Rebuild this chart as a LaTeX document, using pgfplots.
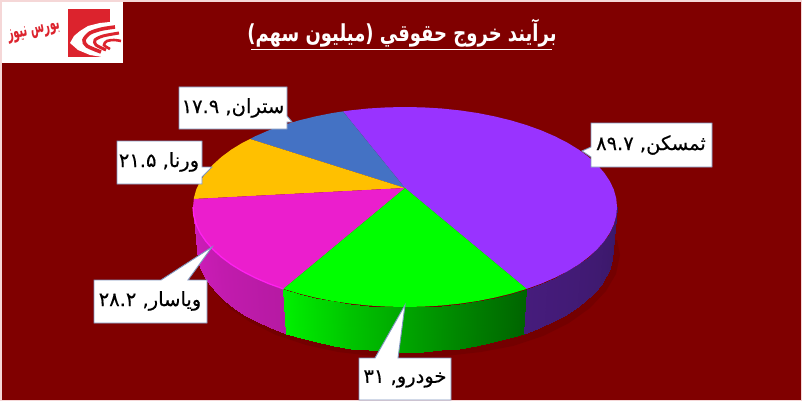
\documentclass[border=0pt]{standalone}
\usepackage{fontspec}
\usepackage{pgfplots}
\pgfplotsset{compat=1.18}
\TeXXeTstate=1
\newfontfamily\fa[Script=Arabic]{DejaVu Sans}
\newfontfamily\fab[Script=Arabic,FakeBold=0.35]{DejaVu Sans}
\definecolor{bg}{RGB}{128,0,0}
\definecolor{page}{RGB}{245,215,215}
\definecolor{shade}{RGB}{116,0,0}
\definecolor{edge}{RGB}{127,150,190}
\definecolor{logored}{RGB}{220,35,45}
\definecolor{cpurple}{RGB}{153,51,255}
\definecolor{cblue}{RGB}{68,114,196}
\definecolor{corange}{RGB}{255,192,0}
\definecolor{cpink}{RGB}{235,30,205}
\definecolor{cgreen}{RGB}{0,255,0}
\definecolor{crim}{RGB}{255,32,240}
\tikzset{lbl/.style={font=\fab\fontsize{19.5}{22}\selectfont,text=black,inner sep=0pt}}
\pgfplotsset{
  colormap={pinkwall}{rgb255(0)=(208,29,187) rgb255(100)=(182,26,163)},
  colormap={greenwall}{rgb255(0)=(0,240,0) rgb255(40)=(0,180,0) rgb255(70)=(0,135,0) rgb255(100)=(0,100,0)},
  colormap={purplewall}{rgb255(0)=(70,28,124) rgb255(100)=(58,24,104)},
  wall/.style={surf,shader=interp,mesh/cols=2,point meta=\thisrow{c}},
  piece/.style={draw=none,fill=#1,forget plot},
  box/.style={fill=white,draw=edge,line width=0.9pt,forget plot},
}
\begin{document}
\begin{tikzpicture}
\begin{axis}[x=1pt,y=1pt,y dir=reverse,xmin=0,xmax=802,ymin=0,ymax=401,hide axis,
  point meta min=0,point meta max=1,clip=true]

% page and background
\addplot[piece=page] coordinates {(0,0) (802,0) (802,401) (0,401)} --cycle;
\addplot[piece=bg] coordinates {(2,2) (801,2) (801,400) (2,400)} --cycle;

% shadow under the pie
\addplot[piece=shade] coordinates {(205,270) (213,290) (229,308) (250,322) (276,335) (306,345) (338,352)
  (373,356) (409,358) (445,356) (481,352) (513,346) (543,336) (569,323) (590,308) (606,291) (616,274) (620,255) (617,240)} --cycle;

% side walls, scanlines top edge then bottom edge
\addplot[wall,colormap name=pinkwall] table {
x y c
193 207 0
197 250 0
193.8 215.7 0.09
197.8 258.9 0.09
196.2 224.4 0.18
200.2 267.7 0.18
200.2 232.9 0.27
204.1 276.4 0.27
205.8 241.2 0.36
209.5 284.9 0.36
212.9 249.3 0.45
216.5 293.1 0.45
221.4 257 0.55
224.9 301 0.55
231.3 264.4 0.64
234.6 308.5 0.64
242.6 271.3 0.73
245.7 315.6 0.73
255.1 277.7 0.82
257.9 322.1 0.82
268.7 283.6 0.91
271.3 328.1 0.91
283.4 288.9 1
285.7 333.6 1
};
\addplot[wall,colormap name=greenwall] table {
x y c
283.4 288.9 0
285.7 333.6 0
299 293.6 0.07
301 338.3 0.07
315.4 297.6 0.14
317.1 342.4 0.14
332.5 301 0.21
333.9 345.9 0.21
350.1 303.6 0.29
351.2 348.5 0.29
368.2 305.5 0.36
368.9 350.4 0.36
386.5 306.6 0.43
386.9 351.6 0.43
405 307 0.5
405 352 0.5
423.5 306.6 0.57
423.1 351.6 0.57
441.8 305.5 0.64
441.1 350.4 0.64
459.9 303.6 0.71
458.8 348.5 0.71
477.5 301 0.79
476.1 345.9 0.79
494.6 297.6 0.86
492.9 342.4 0.86
511 293.6 0.93
509 338.3 0.93
526.6 288.9 1
524.3 333.6 1
};
\addplot[wall,colormap name=purplewall] table {
x y c
526.6 288.9 0
524.3 333.6 0
541.3 283.6 0.09
538.7 328.1 0.09
554.9 277.7 0.18
552.1 322.1 0.18
567.4 271.3 0.27
564.3 315.6 0.27
578.7 264.4 0.36
575.4 308.5 0.36
588.6 257 0.45
585.1 301 0.45
597.1 249.3 0.55
593.5 293.1 0.55
604.2 241.2 0.64
600.5 284.9 0.64
609.8 232.9 0.73
605.9 276.4 0.73
613.8 224.4 0.82
609.8 267.7 0.82
616.2 215.7 0.91
612.2 258.9 0.91
617 207 1
613 250 1
};

% top face, slice outlines
\addplot[piece=cpurple] coordinates {(405,188) (526.6,288.9) (541.3,283.6) (554.9,277.7) (567.4,271.3) (578.7,264.4)
  (588.6,257) (597.1,249.3) (604.2,241.2) (609.8,232.9) (613.8,224.4) (616.2,215.7) (617,207)
  (616.2,198.3) (613.8,189.6) (609.8,181.1) (604.2,172.8) (597.1,164.7) (588.6,157) (578.7,149.6)
  (567.4,142.7) (554.9,136.3) (541.3,130.4) (526.6,125.1) (511,120.4) (494.6,116.4) (477.5,113)
  (459.9,110.4) (441.8,108.5) (423.5,107.4) (405,107) (386.5,107.4) (368.2,108.5) (350.1,110.4) (343,111.4)} --cycle;
\addplot[piece=cblue] coordinates {(405,188) (343,111.4) (332.5,113) (315.4,116.4) (299,120.4) (283.4,125.1)
  (268.7,130.4) (255.1,136.3) (250,139)} --cycle;
\addplot[piece=corange] coordinates {(405,188) (250,139) (242.6,142.7) (231.3,149.6) (221.4,157) (212.9,164.7)
  (205.8,172.8) (200.2,181.1) (196.2,189.6) (193.8,198.3) (193.8,199)} --cycle;
\addplot[piece=cpink] coordinates {(405,188) (193.8,199) (193,207) (193.8,215.7) (196.2,224.4) (200.2,232.9)
  (205.8,241.2) (212.9,249.3) (221.4,257) (231.3,264.4) (242.6,271.3) (255.1,277.7) (268.7,283.6) (283.4,288.9)} --cycle;
\addplot[piece=cgreen] coordinates {(405,188) (283.4,288.9) (299,293.6) (315.4,297.6) (332.5,301) (350.1,303.6)
  (368.2,305.5) (386.5,306.6) (405,307) (423.5,306.6) (441.8,305.5) (459.9,303.6) (477.5,301)
  (494.6,297.6) (511,293.6) (526.6,288.9)} --cycle;

% bright rim on the pink wall
\addplot[no marks,line width=1.3pt,color=crim,forget plot] coordinates {(193,207) (193.8,215.7) (196.2,224.4) (200.2,232.9)
  (205.8,241.2) (212.9,249.3) (221.4,257) (231.3,264.4) (242.6,271.3) (255.1,277.7) (268.7,283.6) (283.4,288.9)};

% callouts
\addplot[box] coordinates {(179,87) (287,87) (287,116) (292,122) (287,122) (287,129) (179,129)} --cycle;
\addplot[box] coordinates {(117,141) (202,141) (202,167) (212,167) (202,177) (202,184) (117,184)} --cycle;
\addplot[box] coordinates {(591,123) (712,123) (712,167) (591,167) (591,157) (582,151) (591,147)} --cycle;
\addplot[box] coordinates {(94,280) (161,280) (212,247) (188,280) (207,280) (207,323) (94,323)} --cycle;
\addplot[box] coordinates {(359,358) (375,358) (405,305) (398,358) (451,358) (451,400) (359,400)} --cycle;

% logo
\addplot[piece=white] coordinates {(2,2) (123,2) (123,63) (2,63)} --cycle;
\addplot[piece=logored] coordinates {(68,9) (110,9) (110,57) (68,57)} --cycle;
\addplot[piece=white] coordinates {(70,43) (74,36) (80,31) (88,26) (100,23) (110,22) (111,57) (102,57) (90,55) (78,50)} --cycle;
\addplot[no marks,smooth,logored,line width=3.6pt,forget plot] coordinates {(101,52) (87,46) (84,40) (90,33) (102,29) (115,27)};
\addplot[no marks,smooth,logored,line width=3pt,forget plot] coordinates {(106,50) (96,45) (95,40) (103,36) (119,33)};
\addplot[no marks,smooth,logored,line width=2.6pt,forget plot] coordinates {(110,49) (104,45) (107,41) (114,40) (121,41)};

% title underline
\addplot[no marks,white,line width=1pt,forget plot] coordinates {(251,50) (552,50)};

\node[font=\fa\bfseries\fontsize{18}{22}\selectfont,text=white,inner sep=0pt,yscale=1.3,transform shape] at (axis cs:402,33) {\beginR برآیند خروج حقوقي (میلیون سهم)\endR};
\node[font=\fa\bfseries\fontsize{10}{12}\selectfont,text=logored,inner sep=0pt,rotate=12,yscale=2,transform shape] at (axis cs:34,32) {\beginR بورس نیوز\endR};
\node[lbl] at (axis cs:233,108) {\beginR ستران, \beginL ۱۷.۹\endL{}\endR};
\node[lbl] at (axis cs:159,162) {\beginR ورنا, \beginL ۲۱.۵\endL{}\endR};
\node[lbl] at (axis cs:651,145) {\beginR ثمسکن, \beginL ۸۹.۷\endL{}\endR};
\node[lbl] at (axis cs:150,301) {\beginR ویاسار, \beginL ۲۸.۲\endL{}\endR};
\node[lbl] at (axis cs:405,379) {\beginR خودرو, \beginL ۳۱\endL{}\endR};
\end{axis}
\end{tikzpicture}
\end{document}
